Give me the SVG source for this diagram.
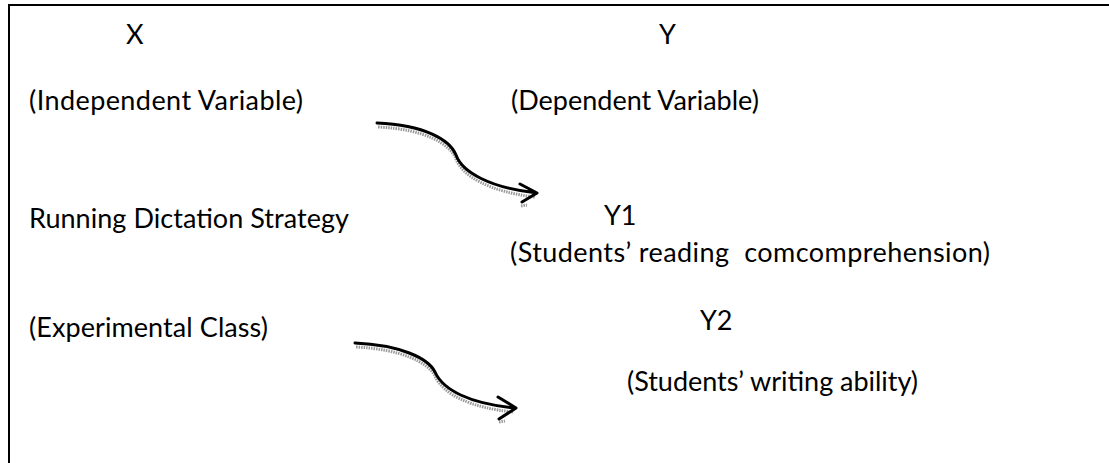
<svg xmlns="http://www.w3.org/2000/svg" width="1109" height="463" viewBox="0 0 1109 463">
<style>
text{font-family:Lato,"Noto Sans",sans-serif;font-size:27px;fill:#000;white-space:pre}
.arr{fill:none;stroke:#000;stroke-width:3;stroke-linecap:round;stroke-linejoin:round}
.sh{fill:none;stroke:#999;stroke-width:3;stroke-dasharray:1.5 1}
</style>
<rect width="1109" height="463" fill="#fff"/>
<g id="frame"><path d="M9,463 V5 H1109" fill="none" stroke="#000" stroke-width="2"/></g>
<g id="x"><text x="126" y="44">X</text><text x="29" y="110" textLength="274">(Independent Variable)</text></g>
<g id="y"><text x="659" y="44">Y</text><text x="511" y="110">(Dependent Variable)</text></g>
<g id="strategy"><text x="29" y="228" textLength="320">Running Dictation Strategy</text><text x="29" y="337" textLength="239">(Experimental Class)</text></g>
<g id="y1"><text x="604" y="225">Y1</text><text x="510" y="262" textLength="480" xml:space="preserve">(Students’ reading  comcomprehension)</text></g>
<g id="y2"><text x="700" y="330">Y2</text><text x="627" y="391" textLength="291">(Students’ writing ability)</text></g>
<g id="connectors">
<path class="sh" d="M378,127 C425,129 450,144 456,159 C462,176 490,192 535,197 M521,206 L527,205"/>
<path class="arr" d="M377,123 C425,125 450,140 456,155 C462,172 490,188 537,193 M520,184 L537,193 L522,202"/>
<path class="sh" d="M356,347 C400,349 428,362 435,376 C443,394 470,408 514,412 M499,422 L505,421"/>
<path class="arr" d="M355,343 C400,345 428,358 435,372 C443,390 470,404 516,408 M498,397 L516,408 L499,419"/>
</g>
</svg>
